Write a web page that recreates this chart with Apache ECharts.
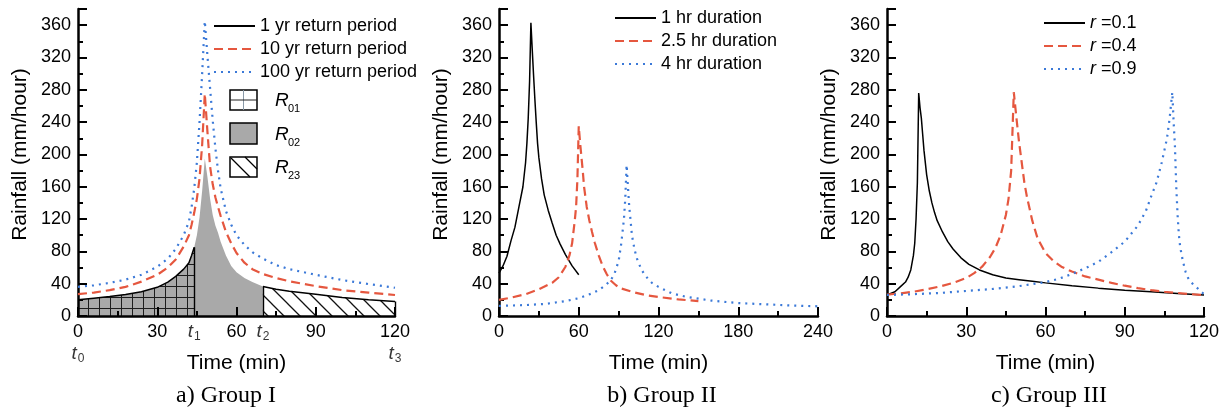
<!DOCTYPE html>
<html>
<head>
<meta charset="utf-8">
<script src="https://cdn.jsdelivr.net/npm/echarts@6/dist/echarts.min.js"></script>
<style>
  html, body { margin: 0; padding: 0; background: #fff; }
  #chart { width: 1227px; height: 414px; }
</style>
</head>
<body>
<div id="chart"></div>
<script>
// ---- Group I: three return periods, r = 0.4, 120 min storm ----
const T1 = 44, T2 = 70;               // boundaries of regions R01 / R02 / R23
const tMarks = [0, T1, T2, 120];      // t0 .. t3
const tMarkSubs = ['0', '1', '2', '3'];
const aTime   = [0, 6, 12, 18, 24, 30, 34, 37, 40, 42, 43, 44, 45, 46, 47, 48, 49, 50, 51, 52, 53, 54, 56, 58, 60, 63, 66, 70, 75, 80, 90, 100, 110, 120];
const a1yr    = [20, 22, 24, 26.5, 30, 35.5, 42, 49, 58, 66, 75, 85, 100, 122, 155, 195, 172, 145, 125, 112, 103, 92, 75, 62, 54, 47, 42, 36.5, 33, 30.5, 27, 23, 20, 18];
const a10yr   = [27, 29, 32, 36, 42.5, 51, 60, 70, 86, 100, 113, 128, 145, 170, 212, 275, 228, 185, 163, 147, 135, 124, 104, 90, 78, 66, 58, 52, 47, 43, 37, 32, 29, 26];
const a100yr  = [36, 38, 41, 45, 51, 61, 71, 83, 100, 117, 135, 158, 190, 240, 300, 365, 322, 282, 242, 208, 180, 158, 130, 113, 100, 88, 79, 71, 63, 58, 51, 44.5, 39.5, 35];

// ---- Group II: three storm durations ----
const bTime1  = [0, 3, 6, 9, 12, 15, 18, 20, 21, 22, 23, 24, 25, 26, 27, 28, 29, 30, 32, 34, 37, 40, 43, 46, 50, 55, 60];
const b1hr    = [53, 62, 74, 93, 110, 135, 160, 190, 214, 245, 290, 363, 330, 298, 268, 240, 214, 196, 170, 150, 131, 115, 100, 89, 76, 62, 51];
const bTime2  = [0, 10, 20, 30, 40, 45, 50, 53, 55, 57, 58, 59, 60, 61, 62, 63, 64, 66, 68, 70, 72, 75, 78, 81, 84, 88, 92, 100, 110, 120, 135, 150];
const b25hr   = [20, 23, 27, 33, 41, 48, 61, 75, 90, 118, 135, 170, 235, 215, 197, 180, 160, 135, 118, 104, 91, 75, 62, 52, 44, 38, 34, 30, 26, 23.5, 20.5, 18.5];
const bTime3  = [0, 20, 35, 50, 60, 70, 75, 80, 84, 87, 90, 92, 94, 95, 96, 97, 98, 99, 100, 102, 104, 107, 110, 115, 120, 130, 140, 160, 180, 200, 220, 240];
const b4hr    = [12.5, 13.5, 15, 18.5, 22, 28, 32, 38, 44, 53, 68, 90, 120, 145, 187, 160, 135, 118, 100, 82, 70, 58, 50, 41, 36, 28, 24, 19, 16, 14.5, 13, 12];

// ---- Group III: three peak positions r ----
const cTime1  = [0, 3, 5, 7, 8, 9, 10, 10.5, 11, 11.5, 12, 12.5, 13, 13.5, 14, 15, 16, 17, 18, 19, 21, 23, 25, 28, 31, 35, 40, 45, 50, 55, 60, 70, 80, 90, 100, 110, 120];
const cR01    = [26, 30, 36, 42, 48, 57, 75, 90, 120, 165, 276, 258, 245, 225, 205, 175, 155, 140, 128, 118, 104, 92, 83, 72, 64, 57, 51, 47, 45, 43, 41, 37.5, 34.5, 32, 30, 28, 26];
const cTime2  = [0, 5, 10, 15, 20, 25, 30, 33, 36, 39, 41, 43, 45, 46, 47, 48, 49, 50, 51, 52, 53, 55, 57, 60, 63, 66, 70, 75, 80, 85, 90, 95, 100, 105, 110, 115, 120];
const cR04    = [26.5, 28, 30, 33, 36.5, 41, 47, 53, 61, 73, 84, 100, 125, 145, 180, 277, 245, 215, 190, 165, 147, 118, 96, 78, 68, 61, 55, 49, 45, 41, 37.5, 34.5, 32, 30, 28.5, 27, 26];
const cTime3  = [0, 10, 20, 30, 40, 50, 60, 65, 70, 75, 80, 85, 90, 95, 98, 100, 102, 104, 105, 106, 107, 108, 108.5, 109, 109.5, 110, 110.5, 111, 112, 113, 114, 115, 117, 120];
const cR09    = [26, 27, 28.5, 31, 33.5, 37, 42, 46, 52, 59, 67, 79, 92, 112, 130, 148, 165, 190, 205, 220, 245, 277, 240, 210, 160, 125, 100, 85, 68, 55, 47, 42, 36, 27];

const namesA = ['1 yr return period', '10 yr return period', '100 yr return period'];
const namesB = ['1 hr duration', '2.5 hr duration', '4 hr duration'];
const namesC = ['r =0.1', 'r =0.4', 'r =0.9'];
const regionNames = ['01', '02', '23'];
const panelTitles = ['a) Group I', 'b) Group II', 'c) Group III'];

const FONT = "'Liberation Sans', Arial, sans-serif";
const SERIF = "'Liberation Serif', 'Times New Roman', serif";
const RED = '#e5573f', BLUE = '#3b79d8', GREY = '#a9a9a9';

// ---- fill patterns ----
function gridPattern(bg, size) {
  const c = document.createElement('canvas');
  c.width = size; c.height = size;
  const g = c.getContext('2d');
  g.fillStyle = bg; g.fillRect(0, 0, size, size);
  g.strokeStyle = '#1c1c1c'; g.lineWidth = 1;
  g.beginPath();
  g.moveTo(0.5, 0); g.lineTo(0.5, size);
  g.moveTo(0, 0.5); g.lineTo(size, 0.5);
  g.stroke();
  return c;
}
function hatchPattern(size) {
  const c = document.createElement('canvas');
  c.width = size; c.height = size;
  const g = c.getContext('2d');
  g.fillStyle = '#fff'; g.fillRect(0, 0, size, size);
  g.strokeStyle = '#111'; g.lineWidth = 1.3;
  g.beginPath();
  g.moveTo(-2, -2); g.lineTo(size + 2, size + 2);
  g.moveTo(-2, size - 2); g.lineTo(2, size + 2);
  g.moveTo(size - 2, -2); g.lineTo(size + 2, 2);
  g.stroke();
  return c;
}

const pairs = (ts, vs) => ts.map((t, i) => [t, vs[i]]);
const valueAt = (ts, vs, t) => vs[ts.indexOf(t)];

function xAx(idx, max, step) {
  return {
    type: 'value', gridIndex: idx, min: 0, max: max, interval: step, z: 3,
    axisLine: { lineStyle: { color: '#000', width: 2.5 } },
    axisTick: { inside: true, length: 9, lineStyle: { color: '#000', width: 2 } },
    minorTick: { show: true, splitNumber: 2, length: 5, lineStyle: { color: '#000', width: 2 } },
    splitLine: { show: false }, minorSplitLine: { show: false },
    axisLabel: { fontSize: 18, color: '#000', fontFamily: FONT, margin: 7 },
    name: 'Time (min)', nameLocation: 'middle', nameGap: 37,
    nameTextStyle: { fontSize: 21, color: '#000', fontFamily: FONT }
  };
}
function yAx(idx) {
  return {
    type: 'value', gridIndex: idx, min: 0, max: 380, interval: 40, z: 3,
    axisLine: { lineStyle: { color: '#000', width: 2.5 } },
    axisTick: { inside: true, length: 9, lineStyle: { color: '#000', width: 2 } },
    minorTick: { show: true, splitNumber: 2, length: 5, lineStyle: { color: '#000', width: 2 } },
    splitLine: { show: false }, minorSplitLine: { show: false },
    axisLabel: { fontSize: 18, color: '#000', fontFamily: FONT, margin: 7, showMaxLabel: false },
    name: 'Rainfall (mm/hour)', nameLocation: 'middle', nameGap: 47,
    nameTextStyle: { fontSize: 21, color: '#000', fontFamily: FONT, padding: [0, 0, 0, 16] }
  };
}
function curve(name, idx, ts, vs, color, dash, width) {
  return {
    name: name, type: 'line', xAxisIndex: idx, yAxisIndex: idx,
    data: pairs(ts, vs), symbol: 'none', showSymbol: false, z: 5,
    lineStyle: { color: color, width: width, type: dash, cap: 'butt' },
    itemStyle: { color: color }, silent: true, animation: false
  };
}
function edge(ts, vs, t) {
  return [{ coord: [t, 0] }, { coord: [t, valueAt(ts, vs, t)] }];
}
function region(idx, from, to, fill, edges) {
  const data = pairs(aTime, a1yr).filter(p => p[0] >= from && p[0] <= to);
  const s = {
    type: 'line', xAxisIndex: idx, yAxisIndex: idx, data: data,
    symbol: 'none', showSymbol: false, z: 2, silent: true, animation: false,
    lineStyle: { width: 0 }, areaStyle: { color: fill, opacity: 1 }
  };
  if (edges.length) {
    s.markLine = {
      silent: true, animation: false, symbol: ['none', 'none'],
      label: { show: false },
      lineStyle: { color: '#000', width: 1.4, type: 'solid' },
      data: edges.map(t => edge(aTime, a1yr, t))
    };
  }
  return s;
}
function legend(names, left, top, italicR) {
  return {
    data: names, orient: 'vertical', left: left, top: top, padding: 0,
    itemWidth: 41, itemHeight: 14, itemGap: 1, selectedMode: false,
    itemStyle: { opacity: 0 },
    textStyle: {
      fontSize: 18, fontFamily: FONT, color: '#000', lineHeight: 22,
      rich: { i: { fontStyle: 'italic', fontSize: 18, fontFamily: FONT, color: '#000', lineHeight: 22 } }
    },
    formatter: italicR ? (n => '{i|' + n.charAt(0) + '}' + n.slice(1)) : (n => n)
  };
}

// black 1-yr curve is hidden where the grey region R02 is drawn
const a1yrOutline = aTime.map((t, i) => [t, (t > T1 && t < T2) ? '-' : a1yr[i]]);

const subRich = {
  t: { fontSize: 19, fontStyle: 'italic', fontFamily: FONT, color: '#000', lineHeight: 20, verticalAlign: 'top' },
  s: { fontSize: 12, fontFamily: FONT, color: '#000', lineHeight: 12, padding: [14, 0, 0, 1], verticalAlign: 'bottom' }
};

const series = [
  region(0, T1, T2, GREY, []),
  region(0, 0, T1, { image: gridPattern(GREY, 11), repeat: 'repeat' }, [T1]),
  region(0, T2, 120, { image: hatchPattern(16), repeat: 'repeat' }, [T2, 120]),
  {
    name: namesA[0], type: 'line', xAxisIndex: 0, yAxisIndex: 0, data: a1yrOutline,
    symbol: 'none', showSymbol: false, z: 5, silent: true, animation: false,
    lineStyle: { color: '#000', width: 1.5 }, itemStyle: { color: '#000' }
  },
  curve(namesA[1], 0, aTime, a10yr, RED, [9, 5], 2.2),
  curve(namesA[2], 0, aTime, a100yr, BLUE, [2, 5], 2.2),
  {
    type: 'scatter', xAxisIndex: 0, yAxisIndex: 0, symbolSize: 1, silent: true, animation: false,
    itemStyle: { color: 'transparent' }, z: 6,
    data: tMarks.map((t, i) => ({
      value: [t, 0],
      label: {
        show: true, position: 'bottom', distance: (t % 30 === 0) ? 28 : 6,
        formatter: '{t|t}{s|' + tMarkSubs[i] + '}', rich: subRich
      }
    }))
  },
  curve(namesB[0], 1, bTime1, b1hr, '#000', 'solid', 1.5),
  curve(namesB[1], 1, bTime2, b25hr, RED, [9, 5], 2.2),
  curve(namesB[2], 1, bTime3, b4hr, BLUE, [2, 5], 2.2),
  curve(namesC[0], 2, cTime1, cR01, '#000', 'solid', 1.5),
  curve(namesC[1], 2, cTime2, cR04, RED, [9, 5], 2.2),
  curve(namesC[2], 2, cTime3, cR09, BLUE, [2, 5], 2.2)
];

// region key drawn beside the Group I legend
const keyBoxes = [
  { y: 90, h: 20 }, { y: 123, h: 21 }, { y: 157, h: 20 }
];
const graphic = [];
graphic.push({ type: 'rect', shape: { x: 230, y: keyBoxes[0].y, width: 27, height: keyBoxes[0].h }, style: { fill: '#fff', stroke: '#000', lineWidth: 1.5 } });
graphic.push({ type: 'line', shape: { x1: 243.5, y1: 90, x2: 243.5, y2: 110 }, style: { stroke: '#8a9aa8', lineWidth: 1 } });
graphic.push({ type: 'line', shape: { x1: 230, y1: 100, x2: 257, y2: 100 }, style: { stroke: '#222', lineWidth: 1 } });
graphic.push({ type: 'rect', shape: { x: 230, y: keyBoxes[1].y, width: 27, height: keyBoxes[1].h }, style: { fill: GREY, stroke: '#000', lineWidth: 1.5 } });
graphic.push({ type: 'rect', shape: { x: 230, y: keyBoxes[2].y, width: 27, height: keyBoxes[2].h }, style: { fill: '#fff', stroke: '#000', lineWidth: 1.5 } });
graphic.push({ type: 'line', shape: { x1: 231, y1: 158, x2: 250, y2: 177 }, style: { stroke: '#000', lineWidth: 1.3 } });
graphic.push({ type: 'line', shape: { x1: 245, y1: 157, x2: 257, y2: 169 }, style: { stroke: '#000', lineWidth: 1.3 } });
regionNames.forEach((n, i) => {
  const cy = keyBoxes[i].y + keyBoxes[i].h / 2;
  graphic.push({ type: 'text', x: 275, y: cy + 1, style: { text: 'R', font: 'italic 19px ' + FONT, fill: '#000', align: 'left', verticalAlign: 'middle' } });
  graphic.push({ type: 'text', x: 288, y: cy + 9, style: { text: n, font: '11px ' + FONT, fill: '#000', align: 'left', verticalAlign: 'middle' } });
});
[226, 662, 1049].forEach((x, i) => {
  graphic.push({ type: 'text', x: x, y: 396, style: { text: panelTitles[i], font: '24px ' + SERIF, fill: '#000', align: 'center', verticalAlign: 'middle' } });
});

const option = {
  backgroundColor: '#fff',
  animation: false,
  grid: [
    { left: 78, top: 9, width: 317, height: 307, outerBoundsMode: 'none' },
    { left: 499, top: 9, width: 319, height: 307, outerBoundsMode: 'none' },
    { left: 887, top: 9, width: 317, height: 307, outerBoundsMode: 'none' }
  ],
  xAxis: [xAx(0, 120, 30), xAx(1, 240, 60), xAx(2, 120, 30)],
  yAxis: [yAx(0), yAx(1), yAx(2)],
  legend: [legend(namesA, 213, 15, false), legend(namesB, 614, 7, false), legend(namesC, 1043, 12, true)],
  graphic: graphic,
  series: series
};

const chart = echarts.init(document.getElementById('chart'), null, { renderer: 'canvas' });
chart.setOption(option);
</script>
</body>
</html>
